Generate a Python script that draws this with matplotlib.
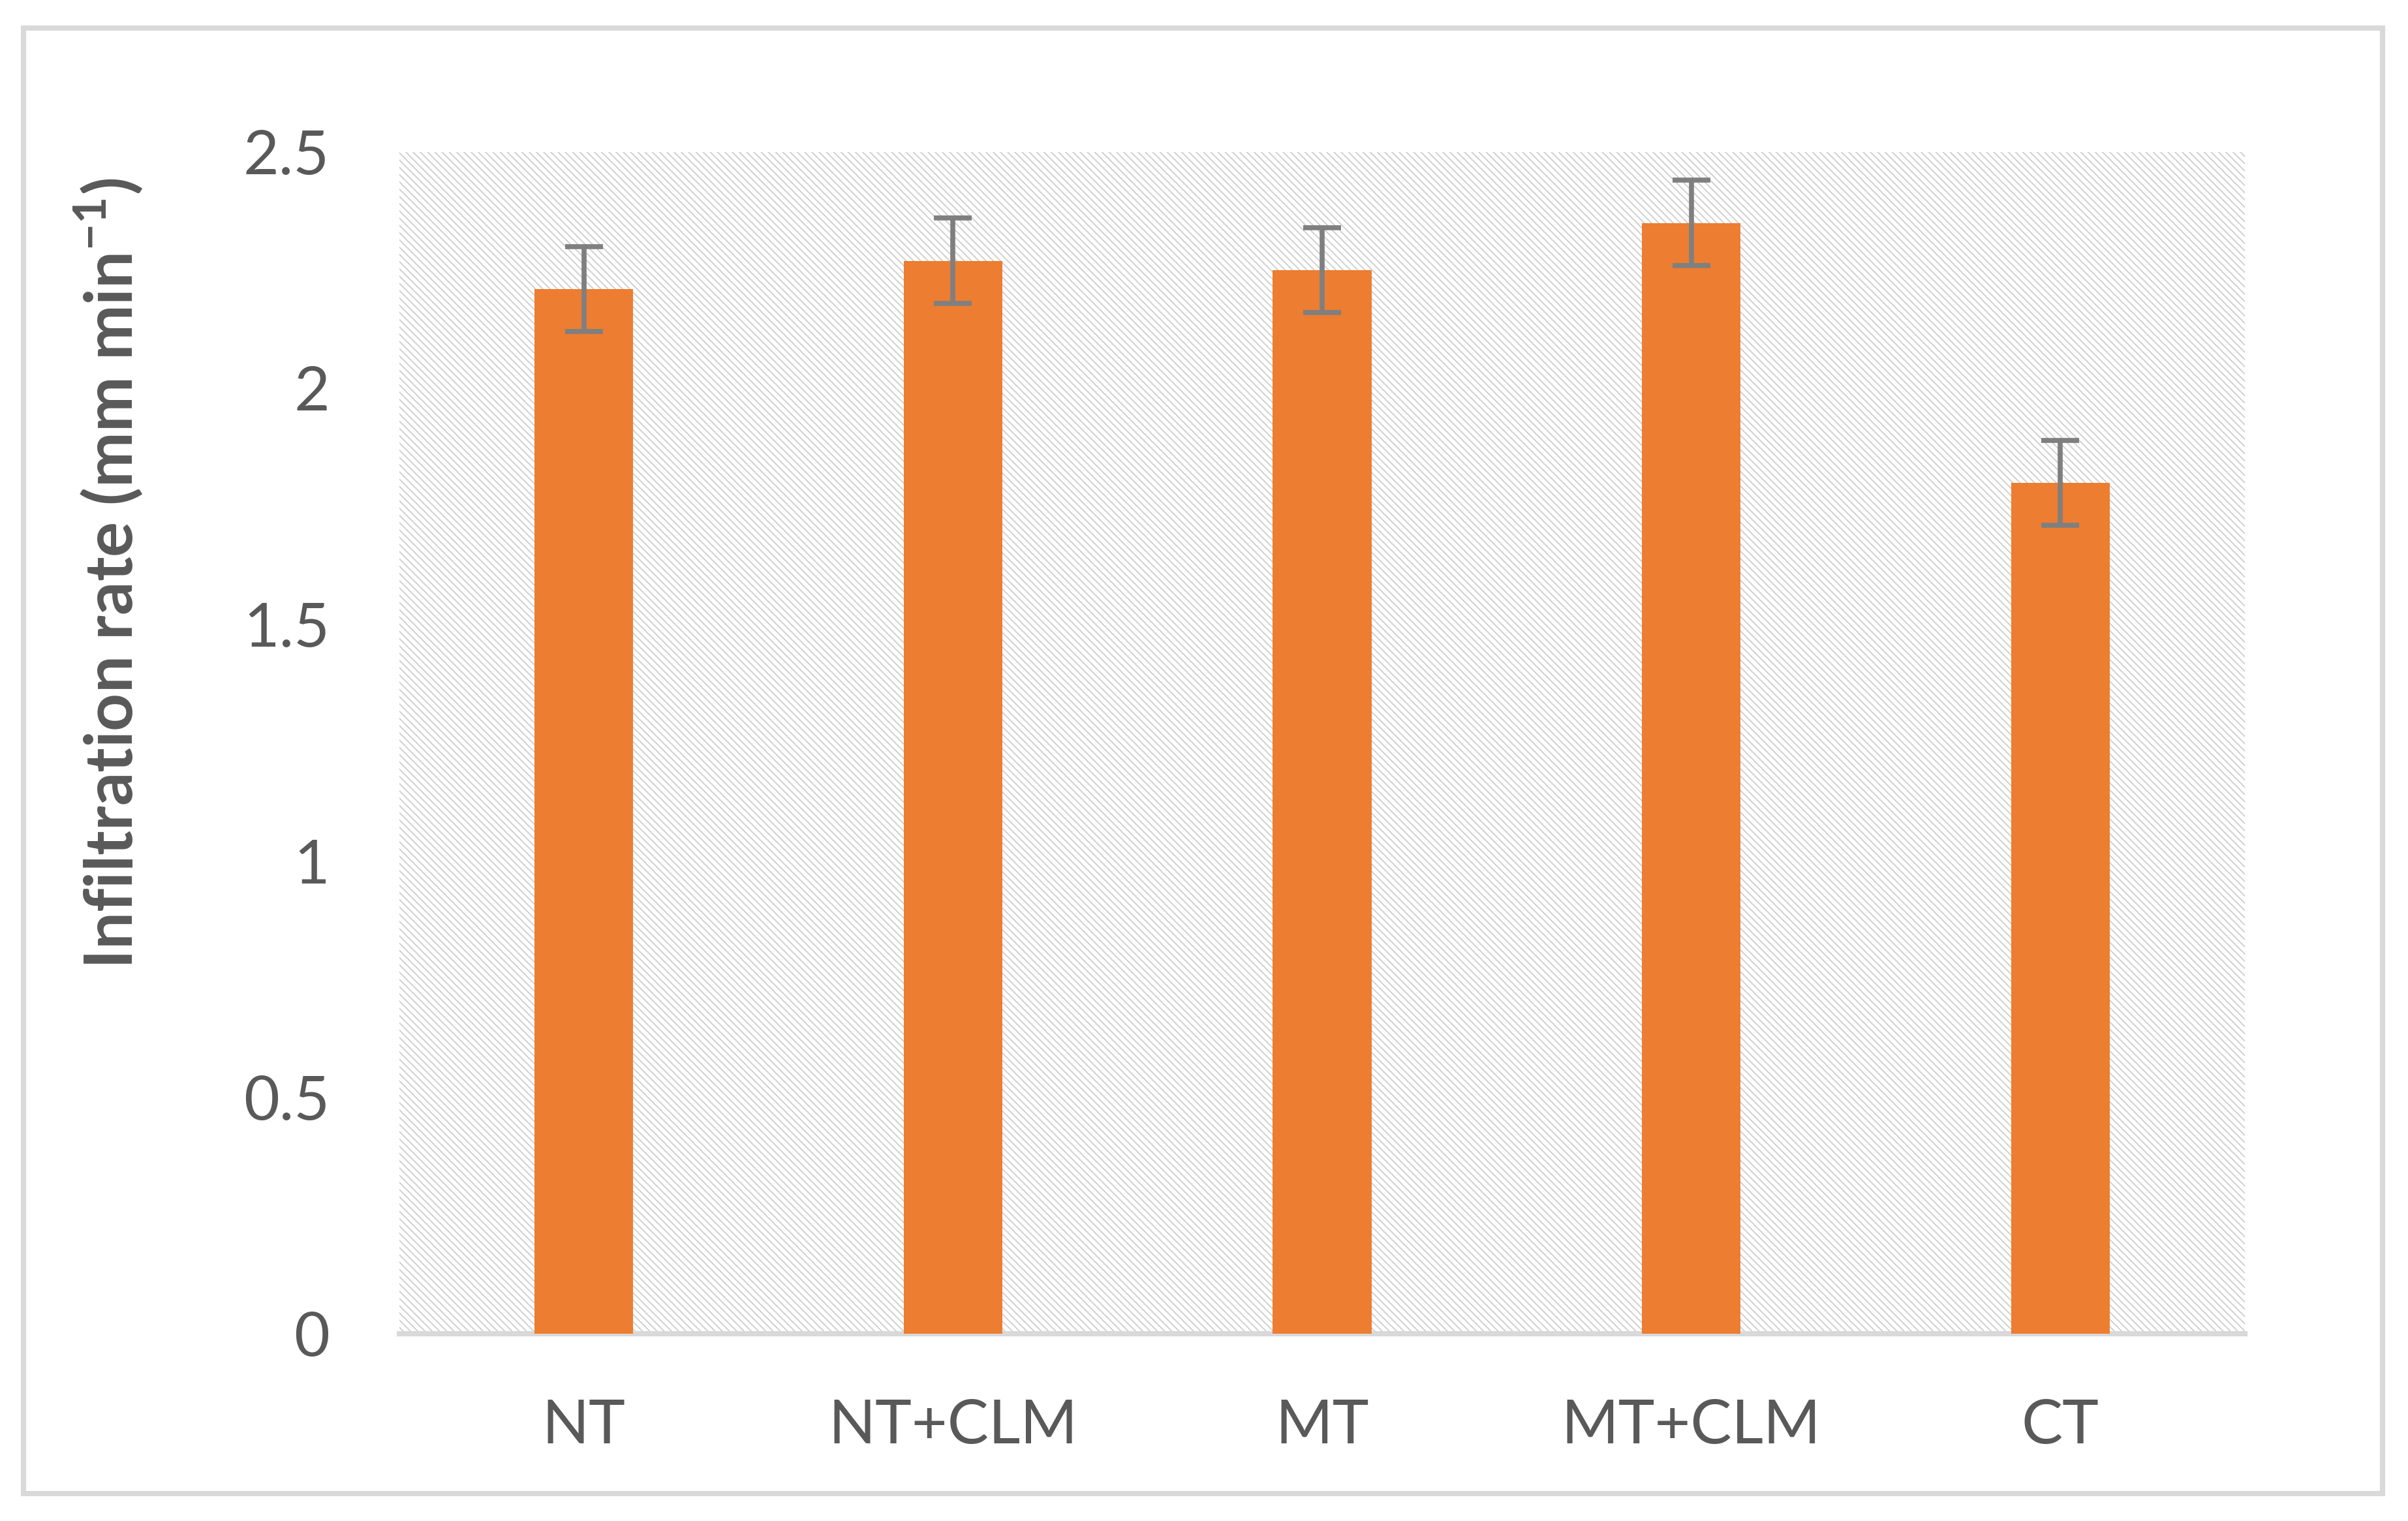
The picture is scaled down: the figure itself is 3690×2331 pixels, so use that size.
import numpy as np
import matplotlib.pyplot as plt
from matplotlib.patches import Rectangle

# Data
categories = ["NT", "NT+CLM", "MT", "MT+CLM", "CT"]
infiltration = [2.21, 2.27, 2.25, 2.35, 1.80]
std_err = [0.09, 0.09, 0.09, 0.09, 0.09]
yticks = [0, 0.5, 1, 1.5, 2, 2.5]
ytick_labels = ["0", "0.5", "1", "1.5", "2", "2.5"]

TEXT_COLOR = "#595959"
BAR_COLOR = "#ED7D31"
ERR_COLOR = "#7F7F7F"
LINE_GRAY = "#D9D9D9"

plt.rcParams["font.family"] = ["Lato", "DejaVu Sans"]
plt.rcParams["mathtext.fontset"] = "custom"
plt.rcParams["mathtext.rm"] = "Lato"
plt.rcParams["mathtext.bf"] = "Lato:bold"
plt.rcParams["hatch.linewidth"] = 1.3

W, H = 3691, 2331
fig = plt.figure(figsize=(W / 100, H / 100), dpi=100)

# plot area in pixels: left 612, right 3440, top 233, bottom 2044
ax = fig.add_axes([612 / W, 1 - 2044 / H, (3440 - 612) / W, (2044 - 233) / H])

# hatched plot area background
ax.set_facecolor("white")
ax.add_patch(Rectangle((0, 0), 1, 1, transform=ax.transAxes, facecolor="white",
                       edgecolor="#CDCDCD", linewidth=0, hatch="\\\\\\", zorder=0))

x = np.arange(len(categories))
ax.bar(x, infiltration, width=0.267, color=BAR_COLOR, zorder=2)
ax.errorbar(x, infiltration, yerr=std_err, fmt="none", ecolor=ERR_COLOR,
            elinewidth=5.5, capsize=21, capthick=5.5, zorder=3)

ax.set_xlim(-0.5, len(categories) - 0.5)
ax.set_ylim(0, 2.5)
ax.set_yticks(yticks)
ax.set_yticklabels(ytick_labels)
ax.set_xticks(x)
ax.set_xticklabels(categories)

for side in ["top", "left", "right"]:
    ax.spines[side].set_visible(False)
ax.spines["bottom"].set_color(LINE_GRAY)
ax.spines["bottom"].set_linewidth(5.8)
ax.spines["bottom"].set_zorder(1)

ax.tick_params(axis="both", length=0, labelsize=68, colors=TEXT_COLOR)
ax.tick_params(axis="y", pad=77)
ax.tick_params(axis="x", pad=72)

ax.set_ylabel(r"Infiltration rate (mm min$^{\mathbf{-1}}$)", fontsize=73,
              fontweight="bold", color=TEXT_COLOR, va="center")
ax.yaxis.set_label_coords((166 - 612) / (3440 - 612), (2044 - 878) / (2044 - 233))

# light gray frame around the whole chart
fig.patches.append(Rectangle((36 / W, 1 - 2289 / H), (3651 - 36) / W, (2289 - 43) / H,
                             transform=fig.transFigure, fill=False,
                             edgecolor=LINE_GRAY, linewidth=5.8))

fig.savefig("out.png", dpi=100)
